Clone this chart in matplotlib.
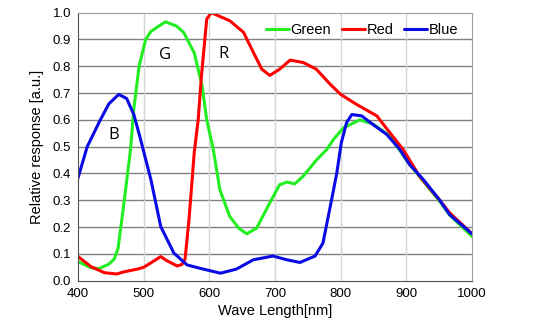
import numpy as np
import matplotlib.pyplot as plt

# spectral response of the three channels
green_wl = [400, 420, 432, 447, 455, 461, 470, 480, 485, 493, 503, 511, 533, 550, 561,
            577, 589, 596, 606, 616, 631, 645, 657, 672, 692, 707, 718, 730, 743, 763,
            779, 789, 804, 829, 849, 875, 900, 926, 951, 966, 1000]
green_val = [0.071, 0.048, 0.045, 0.062, 0.08, 0.12, 0.29, 0.49, 0.64, 0.80, 0.90, 0.93,
             0.966, 0.95, 0.926, 0.85, 0.727, 0.60, 0.49, 0.34, 0.24, 0.195, 0.175, 0.196,
             0.29, 0.358, 0.368, 0.361, 0.39, 0.45, 0.49, 0.527, 0.57, 0.60, 0.585, 0.54,
             0.45, 0.37, 0.295, 0.245, 0.165]

red_wl = [400, 420, 440, 459, 470, 490, 500, 510, 526, 535, 551, 558, 563, 569, 577,
          583, 588, 596, 603, 631, 652, 667, 680, 692, 707, 723, 743, 763, 784, 800,
          824, 855, 875, 895, 920, 951, 966, 1000]
red_val = [0.09, 0.052, 0.03, 0.025, 0.033, 0.043, 0.05, 0.065, 0.09, 0.075, 0.055, 0.06,
           0.08, 0.227, 0.478, 0.60, 0.764, 0.976, 1.0, 0.97, 0.927, 0.852, 0.789, 0.766,
           0.789, 0.823, 0.814, 0.789, 0.733, 0.695, 0.658, 0.615, 0.552, 0.49, 0.39, 0.30,
           0.253, 0.175]

blue_wl = [400, 414, 434, 447, 462, 474, 485, 495, 511, 526, 546, 566, 586, 617, 641,
           667, 697, 718, 738, 761, 773, 786, 794, 801, 809, 817, 832, 849, 870, 890,
           905, 926, 951, 966, 1000]
blue_val = [0.383, 0.50, 0.60, 0.66, 0.695, 0.68, 0.62, 0.53, 0.377, 0.202, 0.103, 0.059,
            0.046, 0.028, 0.043, 0.078, 0.092, 0.078, 0.068, 0.092, 0.14, 0.30, 0.40,
            0.515, 0.59, 0.62, 0.615, 0.583, 0.546, 0.49, 0.433, 0.377, 0.30, 0.246, 0.175]

x_ticks = [400, 500, 600, 700, 800, 900, 1000]
y_ticks = [0.0, 0.1, 0.2, 0.3, 0.4, 0.5, 0.6, 0.7, 0.8, 0.9, 1.0]

plt.rcParams['font.family'] = ['Liberation Sans', 'DejaVu Sans']

fig = plt.figure(figsize=(5.54, 3.31), dpi=100)
ax = fig.add_axes([0.1408, 0.152, 0.7112, 0.8097])

ax.plot(green_wl, green_val, color='#22ee22', lw=2.2, label='Green', solid_capstyle='round')
ax.plot(red_wl, red_val, color='#ff0000', lw=2.2, label='Red', solid_capstyle='round')
ax.plot(blue_wl, blue_val, color='#0a0ae6', lw=2.2, label='Blue', solid_capstyle='round')

ax.set_xlim(400, 1000)
ax.set_ylim(0, 1.0)
ax.set_xticks(x_ticks)
ax.set_yticks(y_ticks)
ax.set_yticklabels(['%.1f' % v for v in y_ticks])
ax.tick_params(length=0, labelsize=9.5, pad=5)

# dark horizontal grid, light vertical grid
for v in y_ticks[1:-1]:
    ax.axhline(v, color='#808080', lw=1.0, zorder=0)
for v in x_ticks[1:-1]:
    ax.axvline(v, color='#d4d4d4', lw=1.0, zorder=0)

ax.spines['left'].set_color('#505050')
ax.spines['bottom'].set_color('#505050')
ax.spines['top'].set_color('#a0a0a0')
ax.spines['right'].set_color('#a0a0a0')

ax.set_xlabel('Wave Length[nm]', fontsize=10.5, labelpad=3)
ax.set_ylabel('Relative response [a.u.]', fontsize=10.5, labelpad=6)

ax.text(455, 0.542, 'B', fontsize=12, family=['Open Sans', 'DejaVu Sans'], ha='center', va='center')
ax.text(532, 0.842, 'G', fontsize=12, family=['Open Sans', 'DejaVu Sans'], ha='center', va='center')
ax.text(621, 0.845, 'R', fontsize=12, family=['Open Sans', 'DejaVu Sans'], ha='center', va='center')

ax.legend(loc='upper right', ncol=3, frameon=False, fontsize=10.5, handlelength=1.6,
          handletextpad=0.1, columnspacing=0.7, borderaxespad=0.3,
          bbox_to_anchor=(0.99, 1.0))

plt.savefig('out.png', dpi=100)
